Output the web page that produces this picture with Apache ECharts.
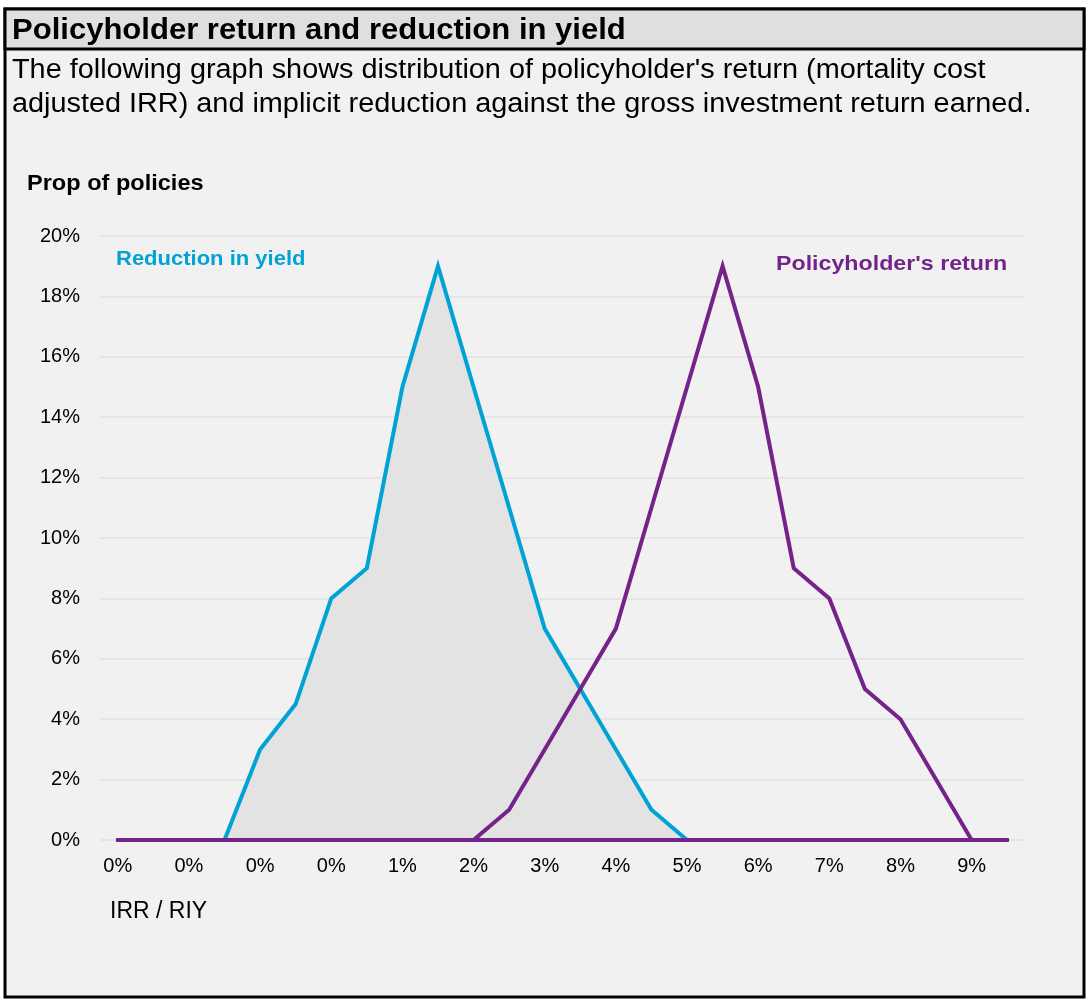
<!DOCTYPE html>
<html>
<head>
<meta charset="utf-8">
<script src="https://cdn.jsdelivr.net/npm/echarts@6/dist/echarts.min.js"></script>
<style>
html,body{margin:0;padding:0;background:#ffffff;}
#chart{width:1089px;height:1003px;}
</style>
</head>
<body>
<div id="chart"></div>
<script>
// Category labels (0.5% steps; Excel shows every other label)
var categories = ['0%','0%','0%','0%','0%','0%','0%','1%','1%','2%','2%','3%','3%','4%','4%','5%','5%','6%','6%','7%','7%','8%','8%','9%','9%','10%'];
// Proportion of policies (%)
var reductionInYield   = [0,0,0,0,3,4.5,8,9,15,19,15,11,7,5,3,1,0,0,0,0,0,0,0,0,0,0];
var policyholderReturn = [0,0,0,0,0,0,0,0,0,0,0,1,3,5,7,11,15,19,15,9,8,5,4,2,0,0];
var yTicks = [0,2,4,6,8,10,12,14,16,18,20];

var titleText = 'Policyholder return and reduction in yield';
var subLine1 = "The following graph shows distribution of policyholder's return (mortality cost";
var subLine2 = 'adjusted IRR) and implicit reduction against the gross investment return earned.';

var FONT = '"Liberation Sans", Arial, sans-serif';
var BLUE = '#00a3d4';
var PURPLE = '#74238a';

function label(text, x, y, font, fill, sx) {
  return {type: 'text', x: x, y: y, scaleX: sx || 1,
          style: {text: text, fill: fill, font: font, verticalAlign: 'middle', align: 'left'}};
}

var chart = echarts.init(document.getElementById('chart'));
var option = {
  backgroundColor: '#ffffff',
  animation: false,
  textStyle: {fontFamily: FONT},
  grid: {left: 100, right: 64, top: 236, bottom: 163},
  xAxis: {
    type: 'category',
    data: categories,
    boundaryGap: true,
    axisLine: {show: false},
    axisTick: {show: false},
    axisLabel: {interval: 1, color: '#000', fontSize: 20, fontFamily: FONT, margin: 16}
  },
  yAxis: {
    type: 'value',
    min: yTicks[0],
    max: yTicks[yTicks.length - 1],
    interval: 2,
    axisLine: {show: false},
    axisTick: {show: false},
    axisLabel: {formatter: '{value}%', color: '#000', fontSize: 20, fontFamily: FONT, margin: 20},
    splitLine: {lineStyle: {color: '#e5e5e5', width: 2}}
  },
  graphic: [
    {type: 'rect', z: -10, shape: {x: 5, y: 9, width: 1079, height: 988},
     style: {fill: '#f1f1f1', stroke: '#000', lineWidth: 3}},
    {type: 'rect', z: -9, shape: {x: 5, y: 9, width: 1079, height: 40},
     style: {fill: '#dfdfdf', stroke: '#000', lineWidth: 3}},
    label(titleText, 12, 31, 'bold 29px ' + FONT, '#000', 1.07),
    label(subLine1, 12, 71, '27px ' + FONT, '#000', 1.068),
    label(subLine2, 12, 105, '27px ' + FONT, '#000', 1.068),
    label('Prop of policies', 27, 184, 'bold 22px ' + FONT, '#000', 1.07),
    label('IRR / RIY', 110, 912, '23px ' + FONT, '#000', 1),
    label('Reduction in yield', 116, 259, 'bold 20px ' + FONT, BLUE, 1.10),
    label("Policyholder's return", 776, 264, 'bold 21px ' + FONT, PURPLE, 1.105)
  ],
  series: [
    {
      name: 'Reduction in yield',
      type: 'line',
      data: reductionInYield,
      symbol: 'none',
      lineStyle: {color: BLUE, width: 4, cap: 'round', join: 'miter'},
      areaStyle: {color: '#e3e3e3', opacity: 1},
      z: 2
    },
    {
      name: "Policyholder's return",
      type: 'line',
      data: policyholderReturn,
      symbol: 'none',
      lineStyle: {color: PURPLE, width: 4, cap: 'round', join: 'miter'},
      markLine: {
        silent: true,
        symbol: ['none', 'none'],
        label: {show: false},
        lineStyle: {color: PURPLE, width: 4, type: 'solid', cap: 'round'},
        data: [[{coord: [0, 0]}, {coord: [categories.length - 1, 0]}]]
      },
      z: 3
    }
  ]
};
chart.setOption(option);
</script>
</body>
</html>
